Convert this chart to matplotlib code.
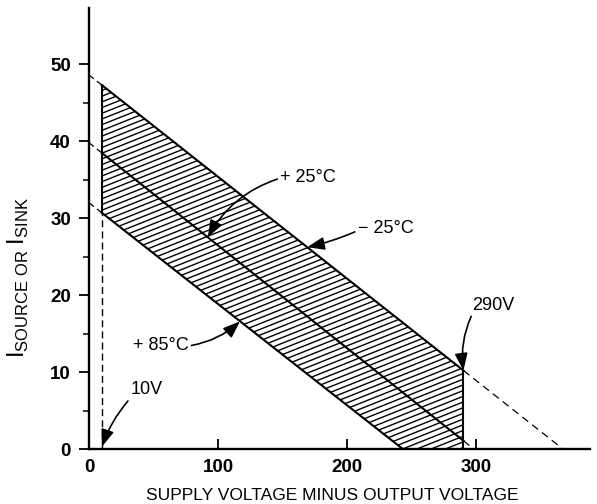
import numpy as np
import matplotlib.pyplot as plt
from matplotlib.patches import Polygon
from matplotlib.collections import LineCollection

plt.rcParams['font.family'] = ['Liberation Sans', 'DejaVu Sans']
plt.rcParams['mathtext.fontset'] = 'custom'
plt.rcParams['mathtext.rm'] = 'Liberation Sans'
plt.rcParams['mathtext.sf'] = 'Liberation Sans'

# Данные: прямые для трёх температур (пересечения с осями)
temps = ['\u2212 25\u00b0C', '+ 25\u00b0C', '+ 85\u00b0C']
i_at_zero = [48.6, 39.8, 32.0]      # ток при V = 0
v_at_zero = [367, 298, 243]         # напряжение при I = 0
v_low, v_high = 10, 290             # границы рабочей области

x_ticks = [0, 100, 200, 300]
y_ticks = [0, 10, 20, 30, 40, 50]
y_minor = [5, 15, 25, 35, 45]


def current(k, v):
    return np.interp(v, [0, v_at_zero[k]], [i_at_zero[k], 0])


fig = plt.figure(figsize=(5.97, 5.04), dpi=100)
ax = fig.add_axes([89 / 597, 55 / 504, 501 / 597, 441 / 504])
ax.set_xlim(0, 388)
ax.set_ylim(0, 57.3)

for s in ['top', 'right']:
    ax.spines[s].set_visible(False)
for s in ['left', 'bottom']:
    ax.spines[s].set_linewidth(1.7)

ax.set_xticks(x_ticks)
ax.set_yticks(y_ticks)
ax.set_yticks(y_minor, minor=True)
ax.tick_params(axis='x', direction='in', length=7, width=1.3, pad=7, labelsize=13.5)
ax.tick_params(axis='y', direction='out', length=7, width=1.3, pad=6, labelsize=13.5)
ax.tick_params(axis='y', which='minor', direction='out', length=4, width=1.1)
for lab in ax.get_xticklabels() + ax.get_yticklabels():
    lab.set_fontweight('bold')

# штриховка рабочей области
v_dense = np.linspace(v_low, v_high, 300)
top = current(0, v_dense)
bottom = np.maximum(current(2, v_dense), 0)
poly_xy = np.vstack([np.column_stack([v_dense, top]),
                     np.column_stack([v_dense[::-1], bottom[::-1]])])
region = Polygon(poly_xy, closed=True, facecolor='none', edgecolor='none')
ax.add_patch(region)

px_v = ax.bbox.width / 388
px_i = ax.bbox.height / 57.3
slope = 0.4 * px_v / px_i
step = 5.7 / px_i
segs = []
for c in np.arange(-40, 60, step):
    segs.append([(0, c), (300, c + slope * 300)])
hatch = LineCollection(segs, colors='black', linewidths=1.0)
hatch.set_clip_path(region)
ax.add_collection(hatch)

# линии температур
lw = 1.5
for k in range(3):
    v_end = min(v_high, v_at_zero[k])
    ax.plot([0, v_low], [current(k, 0), current(k, v_low)], color='black',
            lw=0.9, ls=(0, (5, 3)))
    ax.plot([v_low, v_end], [current(k, v_low), current(k, v_end)],
            color='black', lw=lw)
    if v_at_zero[k] > v_high:
        ax.plot([v_high, v_at_zero[k]], [current(k, v_high), 0], color='black',
                lw=0.9, ls=(0, (6, 4)))

# вертикальные границы
ax.plot([v_low, v_low], [current(2, v_low), current(0, v_low)], color='black', lw=lw)
ax.plot([v_low, v_low], [0, current(2, v_low)], color='black', lw=1.0, ls=(0, (5, 3)))
ax.plot([v_high, v_high], [0, current(0, v_high)], color='black', lw=lw)

arrow = dict(arrowstyle='-|>,head_length=0.8,head_width=0.3', color='black',
             lw=1.2, shrinkA=0, shrinkB=0)
fs = 13

ax.annotate(temps[1], xy=(92, current(1, 92)), xytext=(148, 35.3),
            fontsize=fs, ha='left', va='center',
            arrowprops=dict(arrow, connectionstyle='arc3,rad=0.2', relpos=(0, 0.45)))
ax.annotate(temps[0], xy=(169, current(0, 169)), xytext=(208, 28.7),
            fontsize=fs, ha='left', va='center',
            arrowprops=dict(arrow, connectionstyle='arc3,rad=-0.05', relpos=(0, 0.35)))
ax.annotate(temps[2], xy=(117, current(2, 117)), xytext=(34, 13.5),
            fontsize=fs, ha='left', va='center',
            arrowprops=dict(arrow, connectionstyle='arc3,rad=0.15', relpos=(1, 0.45)))
ax.annotate('10V', xy=(v_low, 0.3), xytext=(32, 7.7),
            fontsize=fs, ha='left', va='center',
            arrowprops=dict(arrow, connectionstyle='arc3,rad=0.1', relpos=(0, 0)))
ax.annotate('290V', xy=(v_high, current(0, v_high)), xytext=(297, 18.7),
            fontsize=fs, ha='left', va='center',
            arrowprops=dict(arrow, connectionstyle='arc3,rad=0.15', relpos=(0, 0)))

ax.set_xlabel('SUPPLY VOLTAGE MINUS OUTPUT VOLTAGE', fontsize=12.5)
ax.xaxis.set_label_coords(243 / 501, -39 / 441)
ax.set_ylabel(r'$\mathrm{I}_{\mathrm{SOURCE\ OR\ }}\mathrm{I}_{\mathrm{SINK}}$',
              fontsize=17)
ax.yaxis.set_label_coords(-58 / 501, 172 / 441)

fig.savefig('out.png', dpi=100)
